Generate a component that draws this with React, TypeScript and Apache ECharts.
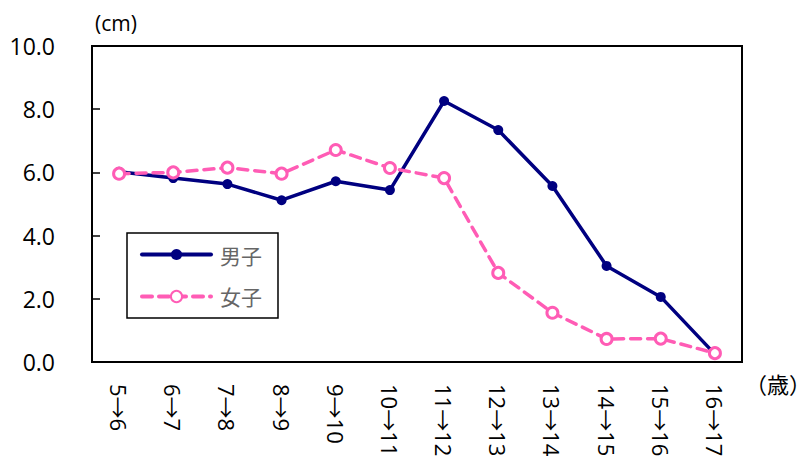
import React, { useEffect, useRef } from "react";
import * as echarts from "echarts";

const categories = ["5→6", "6→7", "7→8", "8→9", "9→10", "10→11", "11→12", "12→13", "13→14", "14→15", "15→16", "16→17"];
const boys = [6.02, 5.82, 5.63, 5.12, 5.72, 5.44, 8.26, 7.34, 5.57, 3.04, 2.06, 0.25];
const girls = [5.96, 6.0, 6.15, 5.96, 6.71, 6.14, 5.82, 2.82, 1.56, 0.73, 0.74, 0.28];
const yTicks = [0, 2, 4, 6, 8, 10];

const FONT = "'Open Sans', 'Noto Sans CJK JP', sans-serif";
const CJK = "'Noto Sans CJK JP', sans-serif";

export default function App() {
  const ref = useRef<HTMLDivElement>(null);
  useEffect(() => {
    if (!ref.current) return;
    const chart = echarts.init(ref.current, undefined, { renderer: "svg" });
    chart.setOption({
      animation: false,
      textStyle: { fontFamily: FONT },
      grid: { left: 92, right: 70, top: 46, bottom: 100, show: true, borderColor: "#000", borderWidth: 2, backgroundColor: "transparent" },
      legend: {
        orient: "vertical",
        left: 127,
        top: 233,
        padding: [11, 16, 11, 13],
        itemWidth: 69,
        itemHeight: 14,
        itemGap: 21,
        borderColor: "#000",
        borderWidth: 1.5,
        textStyle: { color: "#666", fontSize: 21, fontFamily: CJK, padding: [0, 0, 0, 4] },
        data: [
          { name: "男子", lineStyle: { width: 4 } },
          { name: "女子", lineStyle: { width: 4 } },
        ],
      },
      xAxis: {
        type: "category",
        data: categories,
        boundaryGap: true,
        axisLine: { lineStyle: { color: "#000", width: 2 } },
        axisTick: { inside: true, length: 8, lineStyle: { color: "#000", width: 1.5 }, alignWithLabel: false },
        axisLabel: { rotate: -90, color: "#000", fontSize: 22, margin: 22, fontFamily: FONT, interval: 0 },
      },
      yAxis: {
        type: "value",
        min: yTicks[0],
        max: yTicks[yTicks.length - 1],
        interval: 2,
        splitLine: { show: false },
        axisLine: { show: true, lineStyle: { color: "#000", width: 2 } },
        axisTick: { show: true, inside: true, length: 8, lineStyle: { color: "#000", width: 1.5 } },
        axisLabel: { color: "#000", fontSize: 23, margin: 37, fontFamily: FONT, formatter: (v: number) => v.toFixed(1) },
      },
      graphic: [
        { type: "text", left: 95, top: 12, style: { text: "(cm)", fontSize: 21, fill: "#000", fontFamily: FONT } },
        { type: "text", right: 1, top: 372, style: { text: "（歳）", fontSize: 22, fill: "#000", fontFamily: CJK } },
      ],
      series: [
        {
          name: "男子",
          type: "line",
          data: boys,
          symbol: "circle",
          symbolSize: 10,
          lineStyle: { color: "#000080", width: 3.5, cap: "round", join: "round" },
          itemStyle: { color: "#000080" },
        },
        {
          name: "女子",
          type: "line",
          data: girls,
          symbol: "circle",
          symbolSize: 11,
          lineStyle: { color: "#FF5CB5", width: 3.5, type: [10, 7], cap: "round" },
          itemStyle: { color: "#fff", borderColor: "#FF5CB5", borderWidth: 3 },
        },
      ],
    });
    return () => chart.dispose();
  }, []);
  return <div ref={ref} style={{ width: 812, height: 462, position: "absolute", left: 0, top: 0 }} />;
}
